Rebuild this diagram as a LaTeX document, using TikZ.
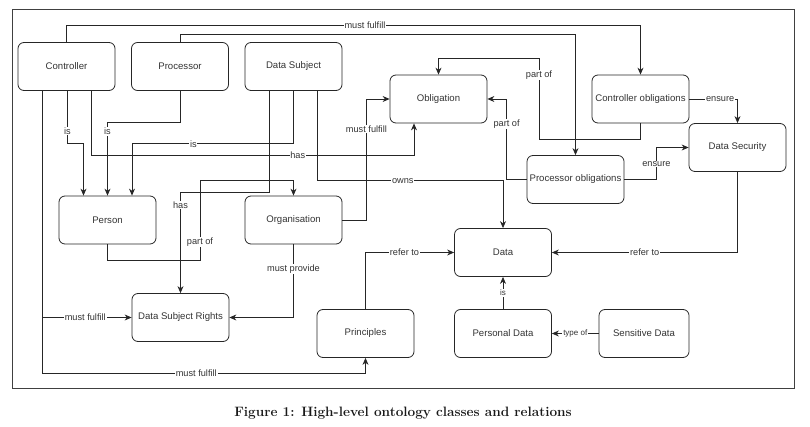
\documentclass[tikz,border=0pt]{standalone}
\usepackage{fontspec}
\newfontfamily\arial{Liberation Sans}
\usetikzlibrary{arrows.meta}
\begin{document}
\begin{tikzpicture}[x=1pt,y=-1pt,
  box/.style={draw=black!85,line width=0.8pt,rounded corners=6pt,minimum width=97pt,minimum height=48pt,inner sep=1pt,font=\arial\fontsize{9.6}{11}\selectfont,text=black!80},
  arr/.style={draw=black!85,line width=0.8pt,-{Stealth[length=7pt,width=6pt]}},
  ln/.style={draw=black!85,line width=0.8pt},
  lbl/.style={fill=white,inner sep=0.8pt,font=\arial\fontsize{9.2}{10}\selectfont,text=black!80},
  slbl/.style={lbl,font=\arial\fontsize{8}{9}\selectfont}]
\useasboundingbox (0,0) rectangle (810,427);
\draw[draw=black!75,line width=0.9pt] (12.7,9) rectangle (794,388);
% nodes
\node[box] (ctrl) at (66.5,66.5) {Controller};
\node[box] (proc) at (180,66.5) {Processor};
\node[box] (dsub) at (293.5,66.5) {Data Subject};
\node[box] (obl) at (438.5,99) {Obligation};
\node[box] (cobl) at (640.5,99) {Controller obligations};
\node[box] (dsec) at (737.5,147.5) {Data Security};
\node[box] (pobl) at (575.5,179.5) {Processor obligations};
\node[box] (pers) at (107.5,220) {Person};
\node[box] (org) at (293.5,220) {Organisation};
\node[box] (dsr) at (180.5,317.5) {Data Subject Rights};
\node[box] (prin) at (365.5,333.5) {Principles};
\node[box] (data) at (503,252.5) {Data};
\node[box] (pdata) at (503,333.5) {Personal Data};
\node[box,minimum width=90pt] (sdata) at (644,333.5) {Sensitive Data};
% connectors
\draw[arr] (ctrl.north) -- ++(0,-17) -| node[lbl,pos=0.26]{must fulfill} (cobl.north);
\draw[arr] (proc.north) -- ++(0,-8) -| (pobl.north);
\draw[arr] ([xshift=1pt]ctrl.south) -- node[lbl,pos=0.76]{is} ++(0,53) -| ([xshift=-24pt]pers.north);
\draw[arr] (proc.south) -- ++(0,32) -| node[lbl,pos=0.56]{is} (pers.north);
\draw[arr] (dsub.south) -- ++(0,53) -| node[lbl,pos=0.31]{is} ([xshift=24.5pt]pers.north);
\draw[arr] ([xshift=24.5pt]ctrl.south) -- ++(0,64.5) -| node[lbl,pos=0.32]{has} ([xshift=-24.5pt]obl.south);
\draw[arr] ([xshift=24pt]dsub.south) -- ++(0,90) -| node[lbl,pos=0.23]{owns} (data.north);
\draw[arr] ([xshift=-24.5pt]dsub.south) -- ++(0,101.5) -| node[lbl,pos=0.564]{has} (dsr.north);
\draw[arr] (pers.south) -- ++(0,16) -- ++(92.5,0) -- node[lbl,pos=0.225]{part of} ++(0,-80) -| (org.north);
\draw[arr] (org.east) -- ++(24,0) |- node[lbl,pos=0.376]{must fulfill} (obl.west);
\draw[arr] (org.south) |- node[lbl,pos=0.17]{must provide} (dsr.east);
\draw[arr] ([xshift=-24pt]ctrl.south) |- node[lbl,pos=0.74]{must fulfill} (dsr.west);
\draw[arr] ([xshift=-24pt]ctrl.south) -- ++(0,282.5) -| node[lbl,pos=0.238]{must fulfill} (prin.south);
\draw[arr] (prin.north) |- node[lbl,pos=0.72]{refer to} (data.west);
\draw[arr] (dsec.south) |- node[lbl,pos=0.75]{refer to} (data.east);
\draw[arr] (pdata.north) -- node[slbl,pos=0.5]{is} (data.south);
\draw[arr] (sdata.west) -- node[slbl,pos=0.5]{type of} (pdata.east);
\draw[arr] (cobl.south) -- ++(0,16) -- ++(-101.5,0) -- node[lbl,pos=0.79]{part of} ++(0,-81) -| (obl.north);
\draw[arr] (pobl.west) -- ++(-20,0) |- node[lbl,pos=0.345]{part of} (obl.east);
\draw[arr] (cobl.east) -| node[lbl,pos=0.32]{ensure} (dsec.north);
\draw[arr] (pobl.east) -- ++(32,0) |- node[lbl,pos=0.24]{ensure} (dsec.west);
% caption
\node[font=\fontsize{13.6}{16}\selectfont\bfseries,text=black!90] (cap) at (403,413) {Figure 1: High-level ontology classes and relations};
\end{tikzpicture}
\end{document}
